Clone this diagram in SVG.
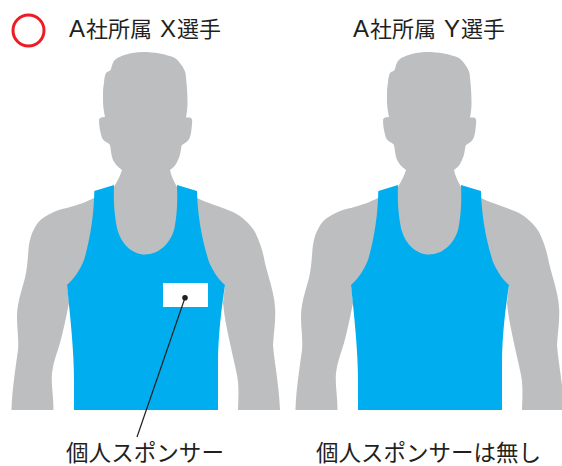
<svg xmlns="http://www.w3.org/2000/svg" width="562" height="466" viewBox="0 0 562 466">
<style>
.body{fill:#bcbec0}
.tank{fill:#00aeef}
.t{font-family:"Noto Sans CJK JP","Liberation Sans",sans-serif;fill:#231f20}
.top{font-size:22px}
.bot{font-size:22.500px}
.lat{font-family:"Liberation Sans","Noto Sans CJK JP",sans-serif;font-size:24px}
</style>
<defs>
<g id="figure">
<path class="body" d="M143 52C154 52 166 54 175 58C180 62 184 68 185.500 73C186.500 82 187.500 92 187.500 103C187.500 108 187 112 186 117.500L190 117.500C192 118 192.500 120 192 124C191.500 130 191 134 190 137C188 143 183 143 181.500 146C180.500 152 180 156 178 160C176 165 173 168 170 170C171 175 173 180 177 187L197 198C207 203 219 206 233 212C243 217 250 224 255 232C260 242 263 252 265 263C268 276 274 292 275 307C276 318 274 330 273 345C274 360 279 385 280 410L238 410C238.500 395 239 385 237 375C233 355 225 325 223 303L225 285L67 285L69 303C66 318 63 332 60 343C57 353 53 363 52 373C51 385 53.500 395 53.500 410L11.500 410C12 390 16 365 18 350C19 340 17 328 17 317C17 300 24 285 26 273C28 262 28 252 29 245C31 232 37 222 43 218C50 213 60 209 67 208C78 205 86 202 94 198L114 187C118 180 120 176 122 170C118 167 115 164 113 160C111 155 111 150 110 145C108 142 104 142 102 138C100 132 99 125 99 120C99 118 101 117 105 117C103.500 110 103 105 103 100C103 92 103 88 104 83C104.500 76 105.500 73 107 72C109 71 110 71 111 69C112 65 113 61 116 59C120 56 130 52 143 52Z"/>
<path class="tank" d="M94.300 191L114 185C113.500 200 114 212 117 228C121 244 132 254.500 145 254.500C159 254.500 171 243 174.500 228C177.500 212 177.500 200 177 185L197 191C197.500 215 202 240 209 262C214 273 219 280 225 285C222 305 218 335 218 363L218 410L74 410L74 380C74 350 70 315 67 285C74 279 80 270 84 260C90 240 94 215 94.300 191Z"/>
</g>
</defs>
<g id="figure-x">
<use href="#figure"/>
<rect x="163" y="283" width="45" height="24" fill="#fff"/>
</g>
<g id="figure-y">
<use href="#figure" x="284"/>
</g>
<g id="mark">
<circle cx="28.500" cy="30.500" r="15.500" fill="none" stroke="#ed1c24" stroke-width="3"/>
</g>
<g id="connectors">
<line x1="185" y1="297.700" x2="137" y2="437" stroke="#231f20" stroke-width="1.200"/>
<circle cx="185" cy="297.700" r="2.800" fill="#231f20"/>
</g>
<g id="labels">
<text class="t top" y="36.500"><tspan class="lat" x="69">A</tspan><tspan x="86">社所属</tspan><tspan class="lat" x="160">X</tspan><tspan x="177">選手</tspan></text>
<text class="t top" y="36.500"><tspan class="lat" x="353">A</tspan><tspan x="370">社所属</tspan><tspan class="lat" x="444">Y</tspan><tspan x="461">選手</tspan></text>
<text class="t bot" x="66" y="461" textLength="158" lengthAdjust="spacingAndGlyphs">個人スポンサー</text>
<text class="t bot" x="316" y="461" textLength="225" lengthAdjust="spacingAndGlyphs">個人スポンサーは無し</text>
</g>
</svg>
